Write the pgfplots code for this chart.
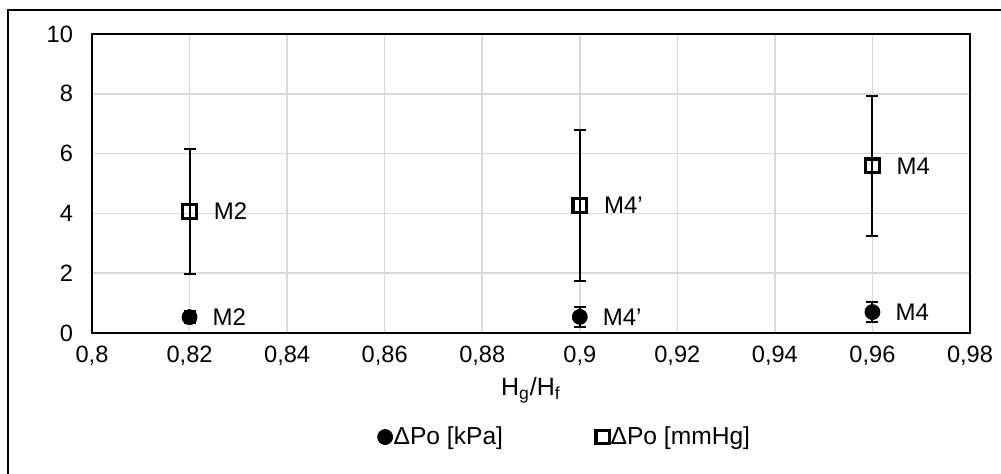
\documentclass[border=0pt]{standalone}
\usepackage{fontspec}
\setmainfont{Liberation Sans}
\usepackage{pgfplots}
\pgfplotsset{compat=1.18}
\begin{document}
\begin{tikzpicture}
\path[use as bounding box] (0pt,0pt) rectangle (500.5pt,237pt);
\draw[line width=0.6pt, black] (4pt,0pt) -- (4pt,232pt) -- (500.5pt,232pt);
\begin{axis}[
  at={(46pt,70.5pt)}, anchor=south west,
  scale only axis, width=439pt, height=149.5pt,
  xmin=0.8, xmax=0.98, ymin=0, ymax=10,
  xtick={0.8,0.82,0.84,0.86,0.88,0.9,0.92,0.94,0.96,0.98},
  ytick={0,2,4,6,8,10},
  /pgf/number format/assume math mode=true,
  x tick label style={/pgf/number format/use comma, /pgf/number format/fixed, /pgf/number format/precision=2, yshift=-3pt},
  grid=major,
  major grid style={line width=0.75pt, gray!30},
  major tick length=0pt,
  axis line style={line width=0.8pt, black},
  tick label style={font=\fontsize{11.8}{13}\selectfont},
  y tick label style={xshift=-6pt},
  xlabel={H\textsubscript{g}/H\textsubscript{f}},
  xlabel style={font=\fontsize{12.5}{14}\selectfont, yshift=1pt},
  point meta=explicit symbolic,
  nodes near coords,
  nodes near coords style={anchor=west, xshift=8pt, font=\fontsize{12}{13}\selectfont, black},
  legend columns=2,
  legend style={at={(0.538,-0.348)}, anchor=center, draw=none, fill=none,
    font=\fontsize{12.3}{14}\selectfont,
    /tikz/every even column/.append style={column sep=46pt},
    inner sep=0pt, row sep=0pt,
    nodes={inner sep=0.5pt}},
  legend cell align=left,
  legend image code/.code={\draw[mark repeat=2,mark phase=2,#1] plot coordinates {(0pt,0pt) (4pt,0pt) (8pt,0pt)};},
]
\addplot[only marks, mark=*, mark size=3.75pt, black,
  error bars/.cd, y dir=both, y explicit,
  error bar style={line width=1pt, black},
  error mark options={rotate=90, mark size=3pt, line width=1pt, black}]
  table[x=x, y=y, y error=e, meta=lab] {
x y e lab
0.82 0.53 0.20 M2
0.90 0.54 0.34 M4’
0.96 0.70 0.34 M4
};
\addplot[only marks, mark=square, mark size=3.4pt, black,
  mark options={line width=1.6pt},
  error bars/.cd, y dir=both, y explicit,
  error bar style={line width=1pt, black},
  error mark options={rotate=90, mark size=3pt, line width=1pt, black}]
  table[x=x, y=y, y error=e, meta=lab] {
x y e lab
0.82 4.06 2.10 M2
0.90 4.26 2.52 M4’
0.96 5.59 2.33 M4
};
\legend{ΔPo [kPa], ΔPo [mmHg]}
\end{axis}
\end{tikzpicture}
\end{document}
